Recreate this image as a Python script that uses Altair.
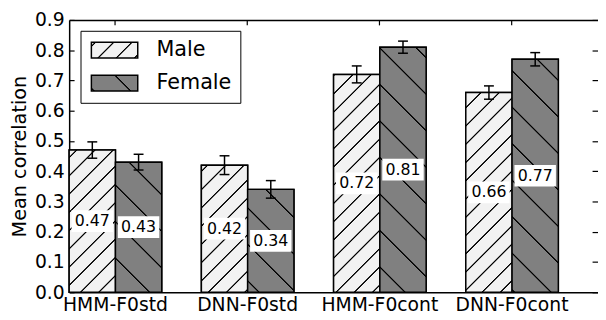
import math
import altair as alt
import pandas as pd

# ---------------- data ----------------
categories = ["HMM-F0std", "DNN-F0std", "HMM-F0cont", "DNN-F0cont"]
genders = ["Male", "Female"]
male_values = [0.47, 0.42, 0.72, 0.66]
female_values = [0.43, 0.34, 0.81, 0.77]
male_errors = [0.027, 0.031, 0.028, 0.022]
female_errors = [0.026, 0.029, 0.020, 0.022]
y_ticks = [0.0, 0.1, 0.2, 0.3, 0.4, 0.5, 0.6, 0.7, 0.8, 0.9]

rows = []
for i, c in enumerate(categories):
    rows.append({"cat": c, "gender": "Male", "value": male_values[i], "err": male_errors[i]})
    rows.append({"cat": c, "gender": "Female", "value": female_values[i], "err": female_errors[i]})
df = pd.DataFrame(rows)

# ---------------- layout / style ----------------
W, H = 536, 276
PAD_L, PAD_T = 62, 10
PAGE = 8
YMAX = 0.9
P_IN, P_OUT = 0.3, 0.15
FONT = "DejaVu Sans"
M_BG, F_BG, INK = "#f2f2f2", "#808080", "#000000"
M_PERIOD, F_PERIOD = 18.5, 37.0
M_PHASE, F_PHASE = 5.5, 5.5

step = W / (len(categories) - P_IN + 2 * P_OUT)
sub = step * (1 - P_IN) / 2
ppu = H / YMAX


def hatch_gradient(x0, y0, w, h, direction, period, phase, bg, ink):
    """Linear gradient that imitates a hatch pattern on a w x h box at page (x0, y0)."""
    L = w + h
    a = L / (w * w + h * h)
    if direction == "/":
        u0 = x0 + y0
        x1, y1, x2, y2 = 0.0, 0.0, a * w, a * h
    else:
        u0 = x0 - (y0 + h)
        x1, y1, x2, y2 = 0.0, 1.0, a * w, 1.0 - a * h
    s2 = math.sqrt(2)
    core, soft = 0.3 * s2, 0.95 * s2
    stops = [(0.0, bg)]
    k = math.floor((u0 - soft - phase) / period)
    while True:
        c = k * period + phase
        if c - soft > u0 + L:
            break
        for off, col in ((c - soft, bg), (c - core, ink), (c + core, ink), (c + soft, bg)):
            p = min(max((off - u0) / L, 0.0), 1.0)
            stops.append((round(p, 5), col))
        k += 1
    stops.append((1.0, bg))
    return {
        "gradient": "linear",
        "x1": round(x1, 5), "y1": round(y1, 5), "x2": round(x2, 5), "y2": round(y2, 5),
        "stops": [{"offset": p, "color": col} for p, col in stops],
    }


def gradient_expr(g):
    stops = ",".join("{offset:%s,color:'%s'}" % (s["offset"], s["color"]) for s in g["stops"])
    return "{gradient:'linear',x1:%s,y1:%s,x2:%s,y2:%s,stops:[%s]}" % (
        g["x1"], g["y1"], g["x2"], g["y2"], stops)


conds = []
for i, c in enumerate(categories):
    for s, g in enumerate(genders):
        v = (male_values if g == "Male" else female_values)[i]
        w = sub
        h = v * ppu
        x0 = PAGE + PAD_L + i * step + s * sub
        y0 = PAGE + PAD_T + H - h
        if g == "Male":
            grad = hatch_gradient(x0, y0, w, h, "/", M_PERIOD, M_PHASE, M_BG, INK)
        else:
            grad = hatch_gradient(x0, y0, w, h, "\\", F_PERIOD, F_PHASE, F_BG, INK)
        conds.append({"test": f"datum.cat === '{c}' && datum.gender === '{g}'", "value": grad})

leg_m = hatch_gradient(90.7, 40, 47, 16, "/", M_PERIOD, M_PHASE, M_BG, INK)
leg_f = hatch_gradient(90.7, 72, 47, 16, "\\", F_PERIOD, F_PHASE, F_BG, INK)

xscale = alt.Scale(domain=categories, paddingInner=P_IN, paddingOuter=P_OUT, align=0)
yscale = alt.Scale(domain=[0, YMAX], nice=False, zero=True)
xoff = alt.XOffset("gender:N", scale=alt.Scale(domain=genders, paddingInner=0, paddingOuter=0))

base = alt.Chart(df)

bars = base.mark_bar(stroke=INK, strokeWidth=1.5).encode(
    x=alt.X("cat:N", scale=xscale, sort=categories,
            axis=alt.Axis(orient="bottom", title=None, ticks=False, tickSize=0, labelAngle=0,
                          labelPadding=4, labelFontSize=19, labelFont=FONT, labelColor=INK,
                          domainColor=INK, domainWidth=1.5, grid=False)),
    xOffset=xoff,
    y=alt.Y("value:Q", scale=yscale,
            axis=alt.Axis(orient="left", values=y_ticks, format=".1f", ticks=False, tickSize=0,
                          labelPadding=5, labelFontSize=19, labelFont=FONT, labelColor=INK,
                          domainColor=INK, domainWidth=1.5, grid=False,
                          title="Mean correlation", titleFontSize=19.5, titleFont=FONT,
                          titleFontWeight="normal", titleColor=INK, titleX=-44,
                          titleBaseline="alphabetic")),
    fill=alt.Fill("gender:N",
                  scale=alt.Scale(domain=genders,
                                  range=[alt.ExprRef(expr=gradient_expr(leg_m)),
                                         alt.ExprRef(expr=gradient_expr(leg_f))]),
                  legend=alt.Legend(
                      title=None, orient="none", legendX=11.5, legendY=11, padding=9,
                      fillColor="white", strokeColor=INK, cornerRadius=0,
                      symbolType="M-2.9375,-1H2.9375V1H-2.9375Z", symbolSize=256,
                      symbolStrokeColor=INK, symbolStrokeWidth=1.5, symbolOpacity=1,
                      symbolOffset=15, labelOffset=32, rowPadding=10.5,
                      labelFontSize=21, labelFont=FONT, labelColor=INK)),
)

hatch = base.mark_bar(stroke=INK, strokeWidth=1.5).encode(
    x=alt.X("cat:N", scale=xscale, sort=categories, axis=None),
    xOffset=xoff,
    y=alt.Y("value:Q", scale=yscale, axis=None),
    fill={"condition": conds, "value": "transparent"},
)

err_rule = base.mark_rule(color=INK, strokeWidth=1.5).transform_calculate(
    lo="datum.value - datum.err", hi="datum.value + datum.err"
).encode(
    x=alt.X("cat:N", scale=xscale, sort=categories,
            axis=alt.Axis(orient="bottom", offset=-H, labels=False, title=None, domain=True,
                          domainColor=INK, domainWidth=1.5, ticks=True, tickSize=5,
                          tickColor=INK, tickWidth=1.2, grid=False)),
    xOffset=xoff,
    y=alt.Y("lo:Q", scale=yscale,
            axis=alt.Axis(orient="right", offset=-W, values=y_ticks, labels=False, title=None,
                          domain=False, ticks=True, tickSize=5, tickColor=INK, tickWidth=1.2,
                          grid=False)),
    y2="hi:Q",
)

err_caps = base.mark_point(shape="M-1,0H1", size=100, filled=False, stroke=INK,
                           strokeWidth=1.5, opacity=1).transform_calculate(
    lo="datum.value - datum.err", hi="datum.value + datum.err"
).transform_fold(["lo", "hi"], as_=["end", "pos"]).encode(
    x=alt.X("cat:N", scale=xscale, sort=categories, axis=None),
    xOffset=xoff,
    y=alt.Y("pos:Q", scale=yscale,
            axis=alt.Axis(orient="left", offset=-W, values=y_ticks, labels=False, title=None,
                          domain=False, ticks=True, tickSize=6, tickColor=INK, tickWidth=1.2,
                          grid=False)),
)

boxes = base.mark_point(shape="M-1,-0.524H1V0.524H-1Z", size=42 * 42, filled=True, fill="white",
                        strokeWidth=0, opacity=1).transform_calculate(
    mid="datum.value / 2"
).encode(
    x=alt.X("cat:N", scale=xscale, sort=categories, axis=None),
    xOffset=xoff,
    y=alt.Y("mid:Q", scale=yscale, axis=None),
)

labels = base.mark_text(font=FONT, fontSize=16, color=INK, align="center",
                        baseline="middle").transform_calculate(
    mid="datum.value / 2"
).encode(
    x=alt.X("cat:N", scale=xscale, sort=categories, axis=None),
    xOffset=xoff,
    y=alt.Y("mid:Q", scale=yscale, axis=None),
    text=alt.Text("value:Q", format=".2f"),
)

chart = alt.layer(bars, hatch, err_rule, err_caps, boxes, labels).resolve_axis(
    x="independent", y="independent"
).properties(
    width=W, height=H,
    autosize=alt.AutoSizeParams(type="none"),
    padding={"left": PAD_L, "top": PAD_T, "right": 0, "bottom": 24},
).configure(font=FONT).configure_view(stroke=None)

chart.save("out.html", embed_options={"renderer": "svg", "actions": False})
